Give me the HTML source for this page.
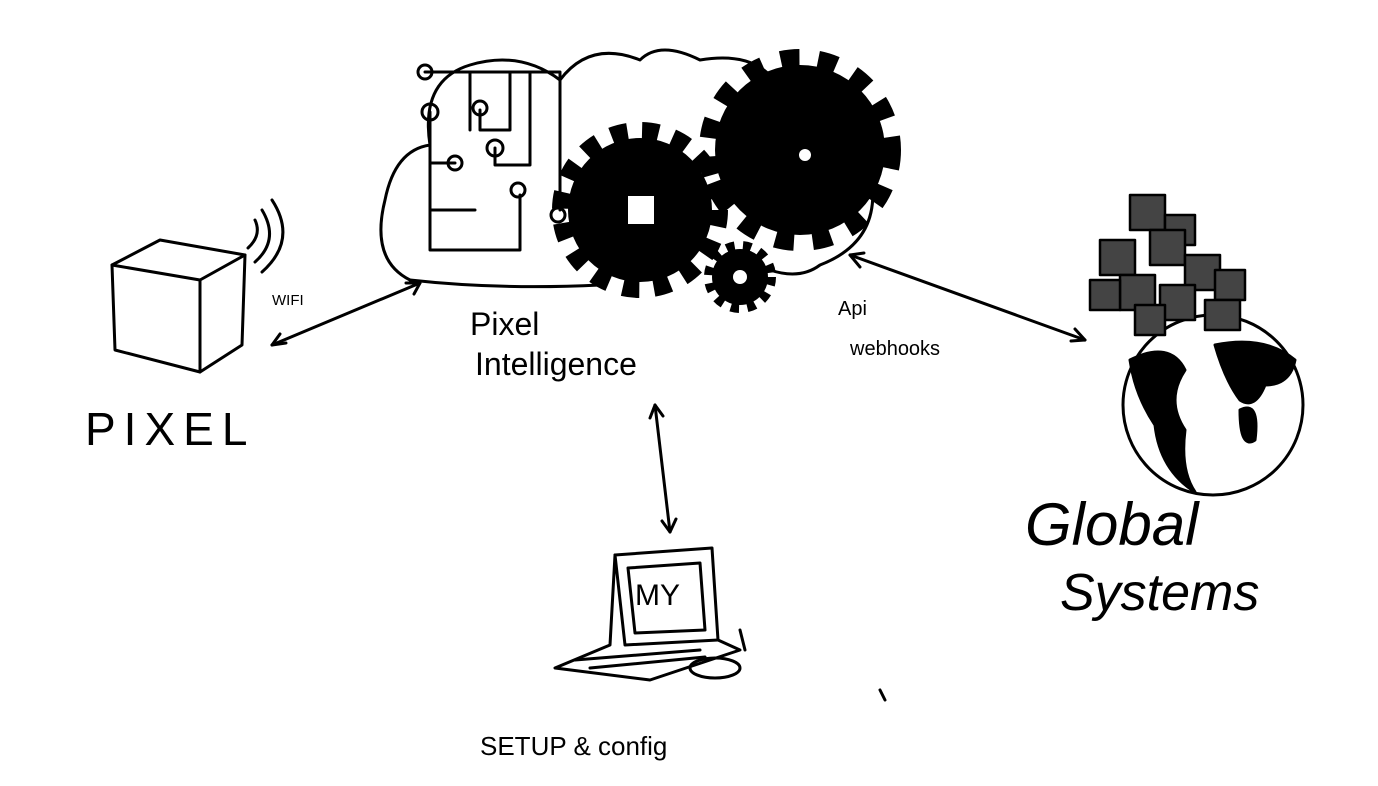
<!DOCTYPE html>
<html><head><meta charset="utf-8"><style>
html,body{margin:0;padding:0;background:#fff;}
svg{display:block}
text{font-family:"Liberation Sans",sans-serif;fill:#000;}
</style></head><body>
<svg width="1378" height="786" viewBox="0 0 1378 786" xmlns="http://www.w3.org/2000/svg">
<g fill="none" stroke="#000" stroke-width="3" stroke-linecap="round" stroke-linejoin="round">
<path d="M112 265 L160 240 L245 255 L200 280 Z"/>
<path d="M112 265 L115 350 L200 372 L200 280"/>
<path d="M245 255 L242 345 L200 372"/>
<path d="M248 248 Q262 235 255 220"/>
<path d="M255 262 Q280 240 262 210"/>
<path d="M262 272 Q298 240 272 200"/>
<path d="M272 345 L420 283"/>
<path d="M272 345 l14 -2 M272 345 l8 -11"/>
<path d="M420 283 l-14 0 M420 283 l-6 11"/>
<path d="M655 405 L670 532"/>
<path d="M655 405 l-5 13 M655 405 l8 11"/>
<path d="M670 532 l-8 -11 M670 532 l6 -13"/>
<path d="M850 255 L1085 340"/>
<path d="M850 255 l10 12 M850 255 l14 -2"/>
<path d="M1085 340 l-14 1 M1085 340 l-10 -11"/>
<path d="M410 280 Q370 260 385 200 Q395 150 430 145 Q420 80 470 65 Q520 50 560 80 Q590 40 640 60 Q660 40 700 60 Q760 50 780 90 Q860 100 870 170 Q885 240 820 265 Q800 280 770 270"/>
<path d="M410 280 Q500 290 600 285"/>
<path d="M425 72 L470 72 L470 130 M470 72 L560 72 L560 210 M430 112 L430 250 L520 250 L520 195 M430 210 L475 210 M480 110 L480 130 L510 130 L510 72 M495 148 L495 165 L530 165 L530 72 M455 163 L430 163"/>
<circle cx="425" cy="72" r="7"/><circle cx="430" cy="112" r="8"/><circle cx="480" cy="108" r="7"/>
<circle cx="495" cy="148" r="8"/><circle cx="455" cy="163" r="7"/><circle cx="518" cy="190" r="7"/><circle cx="558" cy="215" r="7"/>
<path d="M615 555 L712 548 L718 640 L625 645 Z"/>
<path d="M628 568 L700 563 L705 630 L635 633 Z"/>
<path d="M615 555 L610 645 L555 668 L650 680 L740 650 L718 640"/>
<path d="M575 660 L700 650 M590 668 L705 657 M740 630 L745 650"/>
<ellipse cx="715" cy="668" rx="25" ry="10"/>
<circle cx="1213" cy="405" r="90"/>
<path d="M1130 360 Q1170 340 1185 370 Q1165 400 1185 430 Q1180 470 1195 492 Q1160 470 1155 425 Q1135 395 1130 360Z" fill="#000"/>
<path d="M1215 345 Q1265 335 1295 360 Q1290 385 1265 385 Q1255 410 1240 400 Q1225 380 1215 345 Z" fill="#000"/>
<path d="M1240 410 Q1260 400 1255 440 Q1240 450 1240 410Z" fill="#000"/>
<g stroke-width="2.5" fill="#444">
<rect x="1130" y="195" width="35" height="35"/><rect x="1165" y="215" width="30" height="30"/><rect x="1150" y="230" width="35" height="35"/><rect x="1100" y="240" width="35" height="35"/>
<rect x="1185" y="255" width="35" height="35"/><rect x="1215" y="270" width="30" height="30"/><rect x="1120" y="275" width="35" height="35"/><rect x="1160" y="285" width="35" height="35"/>
<rect x="1205" y="300" width="35" height="30"/><rect x="1090" y="280" width="30" height="30"/><rect x="1135" y="305" width="30" height="30"/>
</g>
<path d="M880 690 L885 700"/>
</g>
<g fill="#000">
<circle cx="800" cy="150" r="85"/>
<g stroke="#000" stroke-width="26" stroke-dasharray="18 18"><circle cx="800" cy="150" r="88" fill="none"/></g>
<circle cx="640" cy="210" r="72"/>
<g stroke="#000" stroke-width="24" stroke-dasharray="16 14"><circle cx="640" cy="210" r="76" fill="none"/></g>
<circle cx="740" cy="277" r="28"/>
<g stroke="#000" stroke-width="12" stroke-dasharray="8 8"><circle cx="740" cy="277" r="30" fill="none"/></g>
</g>
<rect x="628" y="196" width="26" height="28" fill="#fff"/>
<circle cx="740" cy="277" r="7" fill="#fff"/>
<circle cx="805" cy="155" r="6" fill="#fff"/>
<text x="272" y="305" font-size="15">WIFI</text>
<text x="85" y="445" font-size="46" letter-spacing="8">PIXEL</text>
<text x="470" y="335" font-size="32">Pixel</text>
<text x="475" y="375" font-size="32">Intelligence</text>
<text x="838" y="315" font-size="20">Api</text>
<text x="850" y="355" font-size="20">webhooks</text>
<text x="635" y="605" font-size="30">MY</text>
<text x="480" y="755" font-size="26">SETUP &amp; config</text>
<text x="1025" y="545" font-size="60" font-style="italic">Global</text>
<text x="1060" y="610" font-size="52" font-style="italic">Systems</text>
</svg>
</body></html>
